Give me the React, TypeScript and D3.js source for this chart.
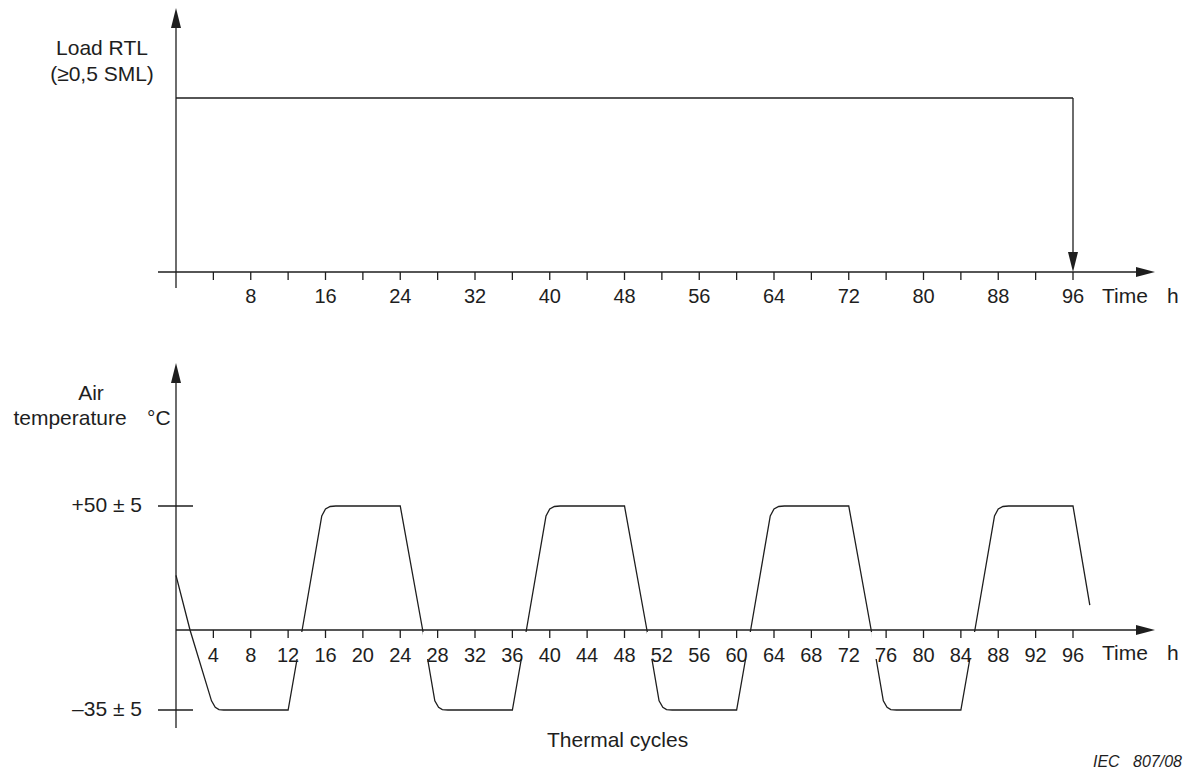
import React from "react";
import * as d3 from "d3";

// time axis (hours)
const loadTicks = [4, 8, 12, 16, 20, 24, 28, 32, 36, 40, 44, 48, 52, 56, 60, 64, 68, 72, 76, 80, 84, 88, 92, 96];
const loadTickLabels = [8, 16, 24, 32, 40, 48, 56, 64, 72, 80, 88, 96];
const tempTicks = [4, 8, 12, 16, 20, 24, 28, 32, 36, 40, 44, 48, 52, 56, 60, 64, 68, 72, 76, 80, 84, 88, 92, 96];

// load held at the RTL level until 96 h (relative level 1)
const loadSeries: [number, number][] = [[0, 1], [96, 1]];
const loadEnd = 96;

// temperature levels shown on the y axis
const tempLevels = [
  { value: 50, label: "+50 ± 5" },
  { value: -35, label: "\u201335 ± 5" },
];

// air temperature (h, °C)
const tempSeries: [number, number][] = [
  [0, 22], [1.5, 0], [3.8, -31], [4.2, -33.8], [4.6, -34.8], [5.1, -35],
  [12, -35], [13.5, 0], [15.6, 46], [16, 48.8], [16.5, 49.8], [17.1, 50],
  [24, 50], [26.4, 0], [27.7, -31], [28.1, -33.8], [28.5, -34.8], [29.1, -35],
  [36, -35], [37.5, 0], [39.6, 46], [40, 48.8], [40.5, 49.8], [41.1, 50],
  [48, 50], [50.4, 0], [51.7, -31], [52.1, -33.8], [52.5, -34.8], [53.1, -35],
  [60, -35], [61.5, 0], [63.6, 46], [64, 48.8], [64.5, 49.8], [65.1, 50],
  [72, 50], [74.4, 0], [75.7, -31], [76.1, -33.8], [76.5, -34.8], [77.1, -35],
  [84, -35], [85.5, 0], [87.6, 46], [88, 48.8], [88.5, 49.8], [89.1, 50],
  [96, 50], [97.8, 10],
];

const INK = "#1e1e1e";
const FONT = "'Liberation Sans', Arial, Helvetica, sans-serif";

function arrow(tx: number, ty: number, dir: "up" | "down" | "right") {
  if (dir === "up") return `${tx},${ty} ${tx - 5},${ty + 20} ${tx + 5},${ty + 20}`;
  if (dir === "down") return `${tx},${ty} ${tx - 5},${ty - 20} ${tx + 5},${ty - 20}`;
  return `${tx},${ty} ${tx - 19},${ty - 5} ${tx - 19},${ty + 5}`;
}

export default function App() {
  const x = d3.scaleLinear().domain([0, 96]).range([176, 1073]);
  const yLoad = d3.scaleLinear().domain([0, 1]).range([272, 98]);
  const yTemp = d3.scaleLinear().domain([-35, 0, 50]).range([710, 630, 506]);

  const loadLine = d3.line<[number, number]>().x(d => x(d[0])).y(d => yLoad(d[1]));
  const tempLine = d3.line<[number, number]>().x(d => x(d[0])).y(d => yTemp(d[1]));

  const x0 = x(0);
  const axisTop = yLoad(0);
  const axisBot = yTemp(0);
  const axisEnd = 1155;

  return (
    <svg width={1190} height={771} style={{ position: "absolute", left: 0, top: 0 }}
      fontFamily={FONT} fill={INK}>
      <rect width={1190} height={771} fill="#fff" />

      {/* ---------- load chart ---------- */}
      <g stroke={INK} strokeWidth={1.3} fill="none">
        <line x1={x0} y1={28} x2={x0} y2={axisTop + 16} />
        <line x1={158} y1={axisTop} x2={axisEnd - 18} y2={axisTop} />
        {loadTicks.map(t => (
          <line key={t} x1={x(t)} y1={axisTop} x2={x(t)} y2={axisTop + 8} />
        ))}
        <path d={loadLine(loadSeries) || ""} />
        <line x1={x(loadEnd)} y1={yLoad(1)} x2={x(loadEnd)} y2={axisTop - 19} />
      </g>
      <polygon points={arrow(x0, 8, "up")} />
      <polygon points={arrow(axisEnd, axisTop, "right")} />
      <polygon points={arrow(x(loadEnd), axisTop, "down")} />
      <g fontSize={20} textAnchor="middle">
        {loadTickLabels.map(t => (
          <text key={t} x={x(t)} y={303}>{t}</text>
        ))}
      </g>
      <text x={1102} y={303} fontSize={21}>Time</text>
      <text x={1167} y={303} fontSize={21}>h</text>
      <text x={102} y={55} fontSize={21} textAnchor="middle">Load RTL</text>
      <text x={102} y={81} fontSize={21} textAnchor="middle">(≥0,5 SML)</text>

      {/* ---------- temperature chart ---------- */}
      <path d={tempLine(tempSeries) || ""} fill="none" stroke={INK} strokeWidth={1.3} />
      {tempTicks.map(t => {
        const w = t < 10 ? 9 : 15;
        return <rect key={t} x={x(t) - w} y={axisBot + 2} width={w * 2} height={27} fill="#fff" />;
      })}
      <g stroke={INK} strokeWidth={1.3} fill="none">
        <line x1={x0} y1={383} x2={x0} y2={728} />
        <line x1={x0} y1={axisBot} x2={axisEnd - 18} y2={axisBot} />
        {tempTicks.map(t => (
          <line key={t} x1={x(t)} y1={axisBot} x2={x(t)} y2={axisBot + 8} />
        ))}
        {tempLevels.map(l => (
          <line key={l.value} x1={158} y1={yTemp(l.value)} x2={193} y2={yTemp(l.value)} />
        ))}
      </g>
      <polygon points={arrow(x0, 363, "up")} />
      <polygon points={arrow(axisEnd, axisBot, "right")} />
      <g fontSize={20} textAnchor="middle">
        {tempTicks.map(t => (
          <text key={t} x={x(t)} y={axisBot + 32}>{t}</text>
        ))}
      </g>
      {tempLevels.map(l => (
        <text key={l.value} x={142} y={yTemp(l.value) + 6} fontSize={21} textAnchor="end">{l.label}</text>
      ))}
      <text x={1102} y={axisBot + 30} fontSize={21}>Time</text>
      <text x={1167} y={axisBot + 30} fontSize={21}>h</text>
      <text x={91} y={400} fontSize={21} textAnchor="middle">Air</text>
      <text x={70} y={425} fontSize={21} textAnchor="middle">temperature</text>
      <text x={147} y={425} fontSize={21}>°C</text>
      <text x={547} y={747} fontSize={21}>Thermal cycles</text>

      <text x={1093} y={767} fontSize={16} fontStyle="italic">IEC</text>
      <text x={1182} y={767} fontSize={16} fontStyle="italic" textAnchor="end">807/08</text>
    </svg>
  );
}
